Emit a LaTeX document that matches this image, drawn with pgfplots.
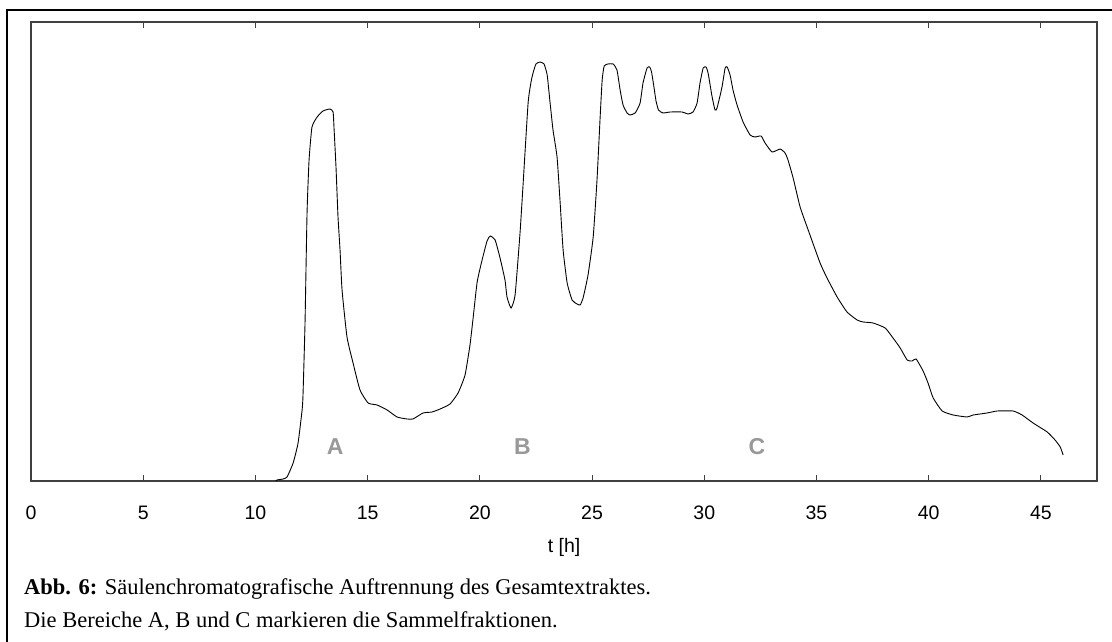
\documentclass[border=0pt]{standalone}
\usepackage{pgfplots}
\pgfplotsset{compat=1.18}
\usepackage{fontspec}
\setmainfont{Liberation Serif}
\setsansfont{Liberation Sans}
\definecolor{axgray}{HTML}{404040}
\definecolor{lblgray}{HTML}{999999}
\begin{document}
\begin{tikzpicture}[x=1pt,y=1pt]
\useasboundingbox (0,0) rectangle (1112,642);
\draw[line width=1.6pt,black] (7,0) -- (7,632) -- (1112,632);
\begin{axis}[
  at={(31pt,161pt)}, anchor=south west,
  scale only axis, width=1066pt, height=459pt,
  xmin=0, xmax=47.5, ymin=0, ymax=459,
  xtick={0,5,...,45}, ytick=\empty,
  tick align=inside, major tick length=6pt,
  axis line style={axgray, line width=1.1pt},
  every tick/.style={axgray, line width=1pt},
  /pgf/number format/assume math mode=true,
  xticklabel style={font=\sffamily\fontsize{19.5}{22}\selectfont, anchor=base, yshift=-39pt, inner sep=0pt},
  xlabel={t [h]},
  xlabel style={font=\sffamily\fontsize{19.5}{22}\selectfont, at={(axis description cs:0.5,0)}, anchor=base, yshift=-72pt, inner sep=0pt},
  clip=false,
]
\addplot[black, line width=0.9pt, smooth, tension=0.3] table {
10.90 0
10.96 1
11.23 2
11.41 4
11.68 18
11.90 38
12.08 71
12.12 86
12.21 158
12.30 268
12.39 321
12.52 354
12.75 364
13.01 370
13.32 372
13.46 369
13.50 354
13.59 314
13.68 264
13.77 231
13.86 191
14.08 144
14.35 118
14.66 91
15.02 78
15.42 76
15.87 71
16.31 64
16.76 62
17.02 62
17.47 68
17.87 69
18.23 72
18.67 77
19.03 88
19.34 106
19.56 136
19.70 163
19.88 199
20.10 221
20.32 240
20.46 245
20.68 241
20.90 223
21.12 201
21.21 184
21.39 173
21.57 186
21.79 248
21.93 298
22.15 378
22.28 399
22.37 408
22.50 417
22.68 419
22.86 417
23.00 406
23.13 378
23.26 351
23.44 324
23.57 281
23.71 231
23.89 198
24.11 181
24.33 177
24.47 176
24.60 183
24.82 206
25.05 244
25.22 301
25.36 364
25.45 401
25.54 415
25.71 417
25.94 417
26.11 411
26.25 391
26.38 376
26.56 368
26.69 366
26.92 368
27.14 378
27.27 398
27.45 413
27.57 414
27.65 409
27.75 395
27.85 380
27.96 371
28.16 368
28.48 369
29.01 369
29.28 367
29.50 369
29.68 378
29.81 398
29.95 413
30.08 414
30.17 408
30.35 384
30.48 371
30.57 373
30.79 394
30.93 413
31.02 414
31.15 406
31.28 391
31.46 376
31.73 359
32.04 346
32.26 344
32.53 345
32.71 338
33.02 329
33.38 332
33.60 328
33.73 321
33.96 303
34.27 274
34.63 251
35.16 218
35.47 203
35.92 184
36.36 169
36.81 161
37.08 159
37.52 158
38.06 153
38.41 143
38.73 133
39.04 121
39.26 120
39.44 122
39.75 110
39.97 98
40.20 83
40.60 70
41.09 66
41.71 64
41.98 66
42.60 68
43.05 70
43.76 70
44.16 66
44.65 58
45.28 49
45.63 41
45.86 34
45.99 26
};
\node[text=lblgray, font=\sffamily\bfseries\fontsize{23}{25}\selectfont] at (axis cs:13.55,34) {A};
\node[text=lblgray, font=\sffamily\bfseries\fontsize{23}{25}\selectfont] at (axis cs:21.9,34) {B};
\node[text=lblgray, font=\sffamily\bfseries\fontsize{23}{25}\selectfont] at (axis cs:32.35,34) {C};
\end{axis}
\node[anchor=base west, inner sep=0pt, font=\fontsize{22.5}{25}\selectfont] at (24,47) {\textbf{Abb. 6:} Säulenchromatografische Auftrennung des Gesamtextraktes.};
\node[anchor=base west, inner sep=0pt, font=\fontsize{22.5}{25}\selectfont] at (24,14) {Die Bereiche A, B und C markieren die Sammelfraktionen.};
\end{tikzpicture}
\end{document}
